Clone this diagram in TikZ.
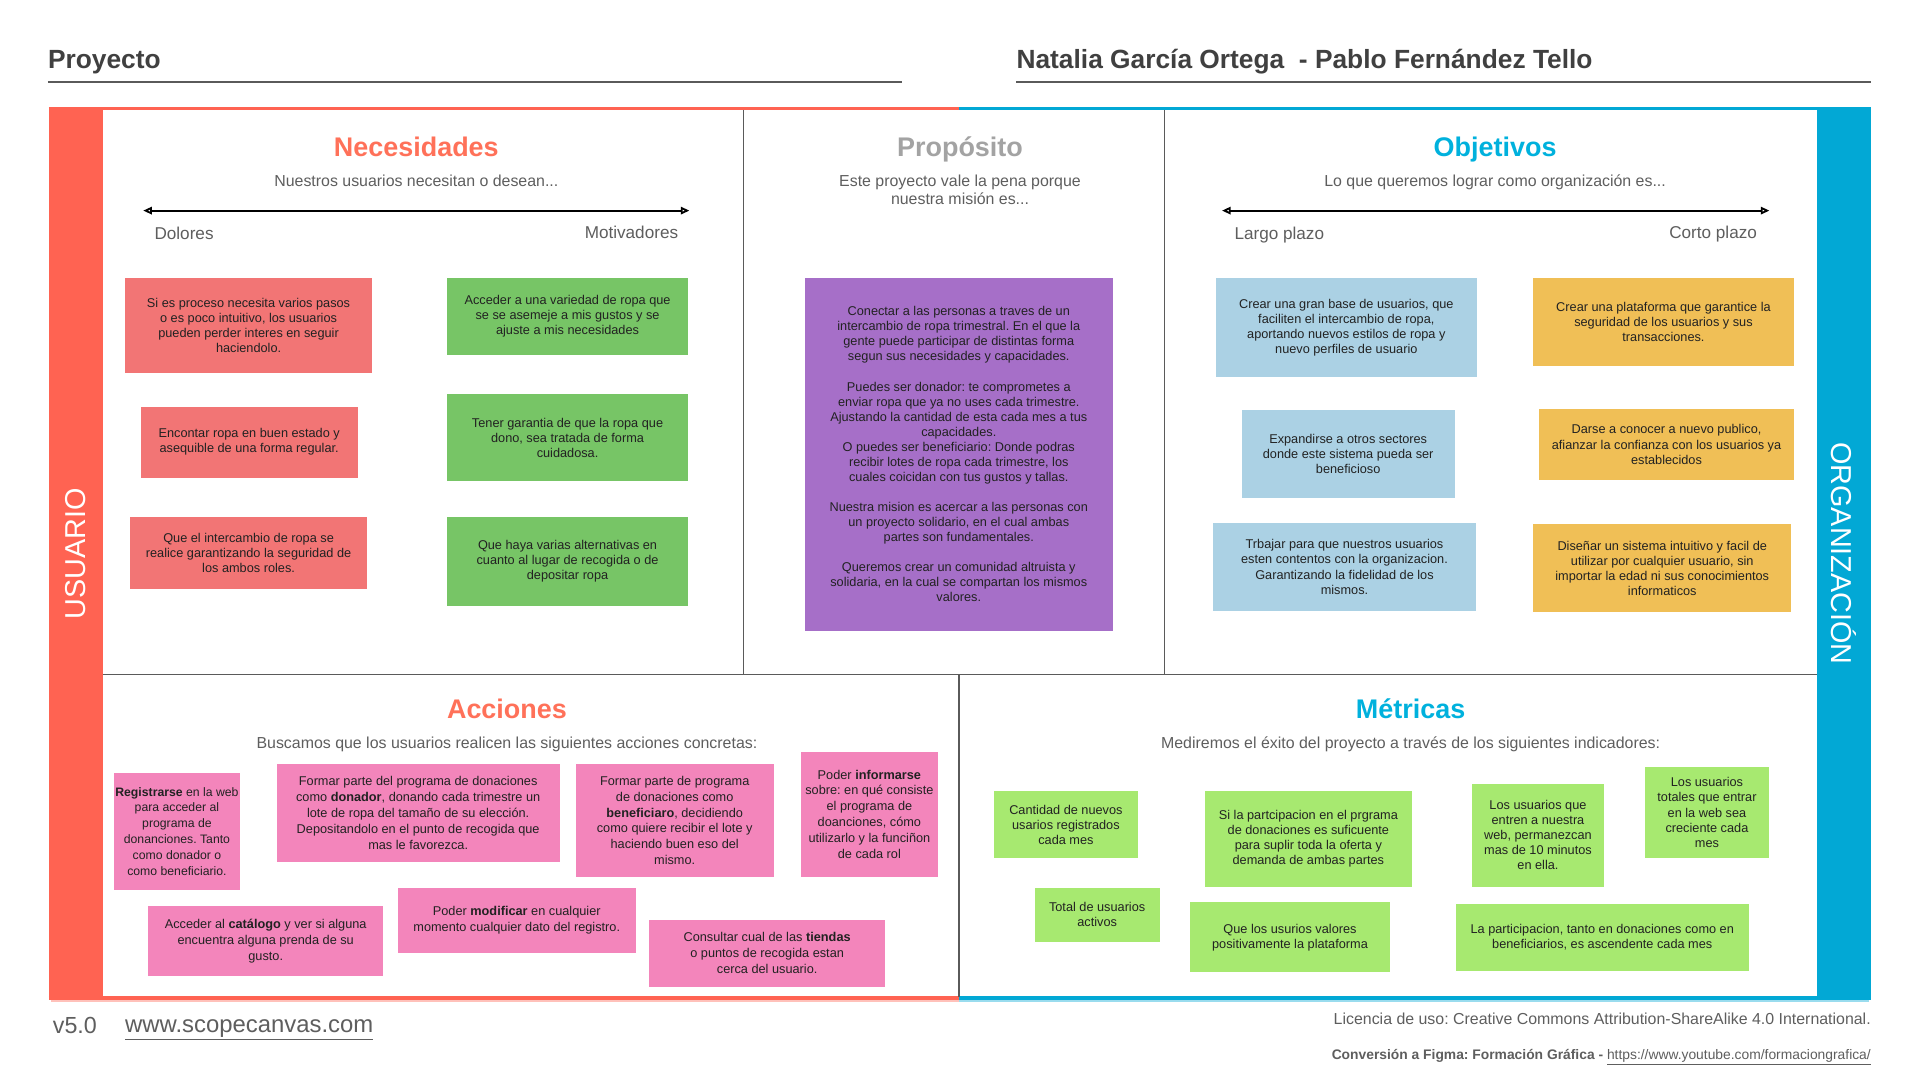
\documentclass[tikz,border=0pt]{standalone}
\usepackage{fontspec}
\setmainfont{Liberation Sans}
\frenchspacing
\usetikzlibrary{arrows.meta}
\definecolor{redbar}{HTML}{FF6352}
\definecolor{bluebar}{HTML}{02A8D5}
\definecolor{titred}{HTML}{FF7159}
\definecolor{titblue}{HTML}{00B1DD}
\definecolor{titgray}{HTML}{A3A3A3}
\definecolor{hdr}{HTML}{404040}
\definecolor{subc}{HTML}{5E5E5E}
\definecolor{divc}{HTML}{5A5A5A}
\definecolor{cred}{HTML}{F27575}
\definecolor{cgreen}{HTML}{77C566}
\definecolor{cpurple}{HTML}{A66FC8}
\definecolor{cblue}{HTML}{ABD1E4}
\definecolor{corange}{HTML}{F0BF56}
\definecolor{cpink}{HTML}{F385BB}
\definecolor{clime}{HTML}{A7E970}
\definecolor{ctext}{HTML}{222222}
\begin{document}
\begin{tikzpicture}[x=1pt,y=-1pt,
  card/.style={inner sep=0pt, align=center, text=ctext, font=\fontsize{10.4}{12.3}\selectfont},
  redcard/.style={card, fill=cred},
  greencard/.style={card, fill=cgreen},
  purplecard/.style={card, fill=cpurple},
  bluecard/.style={card, fill=cblue},
  orangecard/.style={card, fill=corange},
  pinkcard/.style={card, fill=cpink, font=\fontsize{10.4}{13}\selectfont},
  limecard/.style={card, fill=clime},
  header/.style={inner sep=0pt, text=hdr, font=\fontsize{21.5}{24}\selectfont\bfseries},
  sectitle/.style={inner sep=0pt, font=\fontsize{22}{26}\selectfont\bfseries},
  subtitle/.style={inner sep=0pt, text=subc, align=center, font=\fontsize{13}{15}\selectfont},
  axislabel/.style={inner sep=0pt, text=subc, font=\fontsize{14}{16}\selectfont},
  axisline/.style={line width=1.5pt, black, {Triangle[open,length=7pt,width=6pt]}-{Triangle[open,length=7pt,width=6pt]}},
  divider/.style={line width=1.2pt, divc},
  hdrline/.style={line width=1.5pt, divc},
  bartext/.style={inner sep=0pt, text=white, font=\fontsize{23.5}{26}\selectfont},
  foot/.style={inner sep=0pt, text=subc}
]
\useasboundingbox (0,0) rectangle (1568,882);
\fill[white] (0,0) rectangle (1568,882);

% header
\node[header, anchor=base west] (proy) at (39,56) {Proyecto};
\node[header, anchor=base west] (names) at (830,56) {Natalia García Ortega\ \ - Pablo Fernández Tello};
\draw[hdrline] (39,67) -- (737,67);
\draw[hdrline] (830,67) -- (1528,67);

% frame bars
\fill[redbar] (40,88) rectangle (84,816);
\fill[bluebar] (1484,88) rectangle (1528,816);
\draw[redbar, line width=2.5pt] (40,88.5) -- (783,88.5);
\draw[bluebar, line width=2.5pt] (783,88.5) -- (1528,88.5);
\draw[redbar, line width=3pt] (40,815) -- (783,815);
\draw[bluebar, line width=3pt] (783,815) -- (1528,815);
\draw[redbar!40, line width=1pt] (42,817.5) -- (783,817.5);
\draw[bluebar!40, line width=1pt] (783,817.5) -- (1526,817.5);

% dividers
\draw[divider] (607,90) -- (607,551);
\draw[divider] (951,90) -- (951,551);
\draw[divider] (84,551) -- (1484,551);
\draw[divider] (783,551) -- (783,814);

% bar texts
\node[bartext, rotate=90] (usuario) at (62,452) {USUARIO};
\node[bartext, rotate=-90] (organiz) at (1506,452) {ORGANIZACIÓN};

% Necesidades
\node[sectitle, text=titred, anchor=base] (tnec) at (340,128) {Necesidades};
\node[subtitle, anchor=base] (snec) at (340,152) {Nuestros usuarios necesitan o desean...};
\coordinate (na) at (117,172);
\coordinate (nb) at (563,172);
\draw[axisline] (na) -- (nb);
\node[axislabel, anchor=base west] (dol) at (126,196) {Dolores};
\node[axislabel, anchor=base east] (mot) at (554,195) {Motivadores};

\node[redcard, minimum width=202pt, minimum height=78pt] (r1) at (203,266) {Si es proceso necesita varios pasos\\o es poco intuitivo, los usuarios\\pueden perder interes en seguir\\haciendolo.};
\node[redcard, minimum width=177pt, minimum height=58pt] (r2) at (203.5,361) {Encontar ropa en buen estado y\\asequible de una forma regular.};
\node[redcard, minimum width=194pt, minimum height=59pt] (r3) at (203,451.5) {Que el intercambio de ropa se\\realice garantizando la seguridad de\\los ambos roles.};

\node[greencard, minimum width=197pt, minimum height=63pt] (g1) at (463.5,258.5) {Acceder a una variedad de ropa que\\se se asemeje a mis gustos y se\\ajuste a mis necesidades};
\node[greencard, minimum width=197pt, minimum height=71pt] (g2) at (463.5,357.5) {Tener garantia de que la ropa que\\dono, sea tratada de forma\\cuidadosa.};
\node[greencard, minimum width=197pt, minimum height=73pt] (g3) at (463.5,458.5) {Que haya varias alternativas en\\cuanto al lugar de recogida o de\\depositar ropa};

% Proposito
\node[sectitle, text=titgray, anchor=base] (tprop) at (784,128) {Propósito};
\node[subtitle] (sprop) at (784,155) {Este proyecto vale la pena porque\\nuestra misión es...};
\node[purplecard, minimum width=252pt, minimum height=288pt] (pur) at (783,371) {Conectar a las personas a traves de un\\intercambio de ropa trimestral. En el que la\\gente puede participar de distintas forma\\segun sus necesidades y capacidades.\\[12.3pt]Puedes ser donador: te comprometes a\\enviar ropa que ya no uses cada trimestre.\\Ajustando la cantidad de esta cada mes a tus\\capacidades.\\O puedes ser beneficiario: Donde podras\\recibir lotes de ropa cada trimestre, los\\cuales coicidan con tus gustos y tallas.\\[12.3pt]Nuestra mision es acercar a las personas con\\un proyecto solidario, en el cual ambas\\partes son fundamentales.\\[12.3pt]Queremos crear un comunidad altruista y\\solidaria, en la cual se compartan los mismos\\valores.};

% Objetivos
\node[sectitle, text=titblue, anchor=base] (tobj) at (1221,128) {Objetivos};
\node[subtitle, anchor=base] (sobj) at (1221,152) {Lo que queremos lograr como organización es...};
\coordinate (oa) at (998,172);
\coordinate (ob) at (1445,172);
\draw[axisline] (oa) -- (ob);
\node[axislabel, anchor=base west] (largo) at (1008,196) {Largo plazo};
\node[axislabel, anchor=base east] (corto) at (1435,195) {Corto plazo};

\node[bluecard, minimum width=213pt, minimum height=81pt] (b1) at (1099.5,267.5) {Crear una gran base de usuarios, que\\faciliten el intercambio de ropa,\\aportando nuevos estilos de ropa y\\nuevo perfiles de usuario};
\node[bluecard, minimum width=174pt, minimum height=72pt] (b2) at (1101,371) {Expandirse a otros sectores\\donde este sistema pueda ser\\beneficioso};
\node[bluecard, minimum width=214pt, minimum height=72pt] (b3) at (1098,463) {Trbajar para que nuestros usuarios\\esten contentos con la organizacion.\\Garantizando la fidelidad de los\\mismos.};

\node[orangecard, minimum width=213pt, minimum height=72pt] (o1) at (1358.5,263) {Crear una plataforma que garantice la\\seguridad de los usuarios y sus\\transacciones.};
\node[orangecard, minimum width=208pt, minimum height=58pt] (o2) at (1361,363) {Darse a conocer a nuevo publico,\\afianzar la confianza con los usuarios ya\\establecidos};
\node[orangecard, minimum width=211pt, minimum height=72pt] (o3) at (1357.5,464) {Diseñar un sistema intuitivo y facil de\\utilizar por cualquier usuario, sin\\importar la edad ni sus conocimientos\\informaticos};

% Acciones
\node[sectitle, text=titred, anchor=base] (tacc) at (414,587) {Acciones};
\node[subtitle, anchor=base] (sacc) at (414,611) {Buscamos que los usuarios realicen las siguientes acciones concretas:};

\node[pinkcard, minimum width=103pt, minimum height=96pt, font=\fontsize{10}{13}\selectfont] (p1) at (144.5,679) {\textbf{Registrarse} en la web\\para acceder al\\programa de\\donanciones. Tanto\\como donador o\\como beneficiario.};
\node[pinkcard, minimum width=231pt, minimum height=80pt] (p2) at (341.5,664) {Formar parte del programa de donaciones\\como \textbf{donador}, donando cada trimestre un\\lote de ropa del tamaño de su elección.\\Depositandolo en el punto de recogida que\\mas le favorezca.};
\node[pinkcard, minimum width=162pt, minimum height=92pt] (p3) at (551,670) {Formar parte de programa\\de donaciones como\\\textbf{beneficiaro}, decidiendo\\como quiere recibir el lote y\\haciendo buen eso del\\mismo.};
\node[pinkcard, minimum width=112pt, minimum height=102pt] (p4) at (710,665) {Poder \textbf{informarse}\\sobre: en qué consiste\\el programa de\\doanciones, cómo\\utilizarlo y la funciñon\\de cada rol};
\node[pinkcard, minimum width=192pt, minimum height=57pt] (p5) at (217,768.5) {Acceder al \textbf{catálogo} y ver si alguna\\encuentra alguna prenda de su\\gusto.};
\node[pinkcard, minimum width=194pt, minimum height=53pt] (p6) at (422,751.5) {Poder \textbf{modificar} en cualquier\\momento cualquier dato del registro.};
\node[pinkcard, minimum width=193pt, minimum height=55pt] (p7) at (626.5,778.5) {Consultar cual de las \textbf{tiendas}\\o puntos de recogida estan\\cerca del usuario.};

% Metricas
\node[sectitle, text=titblue, anchor=base] (tmet) at (1152,587) {Métricas};
\node[subtitle, anchor=base] (smet) at (1152,611) {Mediremos el éxito del proyecto a través de los siguientes indicadores:};

\node[limecard, minimum width=117pt, minimum height=55pt] (m1) at (870.5,673.5) {Cantidad de nuevos\\usarios registrados\\cada mes};
\node[limecard, minimum width=169pt, minimum height=78pt] (m2) at (1068.5,685) {Si la partcipacion en el prgrama\\de donaciones es suficuente\\para suplir toda la oferta y\\demanda de ambas partes};
\node[limecard, minimum width=108pt, minimum height=84pt] (m3) at (1256,682) {Los usuarios que\\entren a nuestra\\web, permanezcan\\mas de 10 minutos\\en ella.};
\node[limecard, minimum width=102pt, minimum height=75pt] (m4) at (1394,663.5) {Los usuarios\\totales que entrar\\en la web sea\\creciente cada\\mes};
\node[limecard, minimum width=102pt, minimum height=44pt] (m5) at (896,747) {Total de usuarios\\activos};
\node[limecard, minimum width=163pt, minimum height=57pt] (m6) at (1053.5,765.5) {Que los usurios valores\\positivamente la plataforma};
\node[limecard, minimum width=239pt, minimum height=55pt] (m7) at (1308.5,765.5) {La participacion, tanto en donaciones como en\\beneficiarios, es ascendente cada mes};

% footer
\node[foot, anchor=base west, font=\fontsize{19}{22}\selectfont] (ver) at (43,844) {v5.0};
\node[foot, anchor=base west, font=\fontsize{19.5}{22}\selectfont] (web) at (102,843) {\underline{www.scopecanvas.com}};
\node[foot, anchor=base east, font=\fontsize{13}{15}\selectfont] (lic) at (1528,837) {Licencia de uso: Creative Commons Attribution-ShareAlike 4.0 International.};
\node[foot, anchor=base east, font=\fontsize{11.3}{13}\selectfont] (conv) at (1528,865) {\textbf{Conversión a Figma: Formación Gráfica -} \underline{https://www.youtube.com/formaciongrafica/}};
\end{tikzpicture}
\end{document}
